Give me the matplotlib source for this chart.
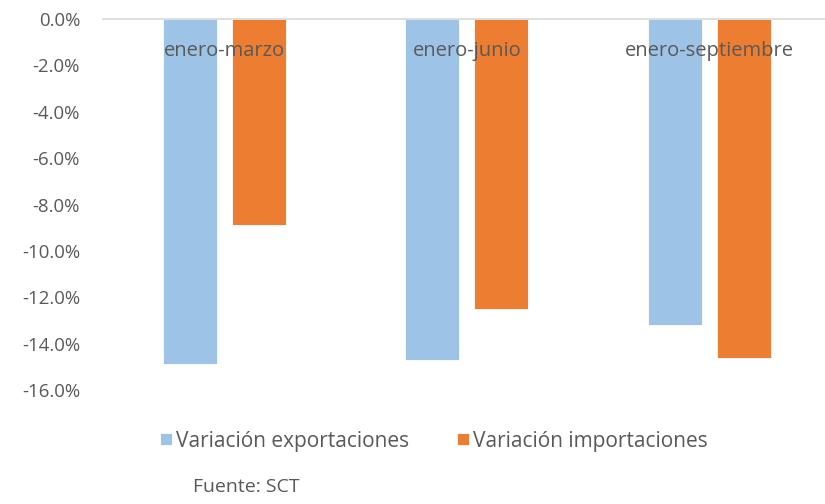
import matplotlib
matplotlib.use("Agg")
import matplotlib.pyplot as plt
import numpy as np

categories = ["enero-marzo", "enero-junio", "enero-septiembre"]
exportaciones = [-14.9, -14.7, -13.2]
importaciones = [-8.9, -12.5, -14.6]
y_ticks = [0, -2, -4, -6, -8, -10, -12, -14, -16]
series_names = ["Variación exportaciones", "Variación importaciones"]

plt.rcParams['font.family'] = ['Open Sans', 'DejaVu Sans']
text_color = "#595959"

fig = plt.figure(figsize=(8.25, 5.04), dpi=100)
ax = fig.add_axes([103/825, (504-390)/504, (825-103)/825, 371/504])

x = np.arange(len(categories))
w = 0.223
off = 0.142
b1 = ax.bar(x - off, exportaciones, w, color="#9DC3E6", edgecolor="white", linewidth=0.6,
            label=series_names[0], zorder=2)
b2 = ax.bar(x + off, importaciones, w, color="#ED7D31", edgecolor="white", linewidth=0.6,
            label=series_names[1], zorder=2)

ax.set_xlim(-0.5, -0.5 + 722/242.5)
ax.set_ylim(-16, 0)
ax.set_yticks(y_ticks)
ax.set_yticklabels([f"{v:.1f}%" for v in y_ticks], fontsize=13.4, color=text_color)
ax.tick_params(axis='y', length=0, pad=16.5)
ax.set_xticks([])
for s in ["left", "right", "bottom"]:
    ax.spines[s].set_visible(False)
ax.spines["top"].set_color("#d9d9d9")
ax.spines["top"].set_linewidth(1.2)
ax.spines["top"].set_zorder(3)

for xi, c in zip(x, categories):
    ax.text(xi, -1.38, c, ha="center", va="center", fontsize=14.5, color=text_color, zorder=4)

leg = fig.legend(handles=[b1, b2], loc="center", bbox_to_anchor=(434/825, 1 - 441/504),
                 ncol=2, frameon=False, fontsize=15, labelcolor=text_color,
                 handlelength=0.55, handleheight=0.55, handletextpad=0.2, columnspacing=2.3)

fig.text(193/825, 1 - 487/504, "Fuente: SCT", fontsize=14, color=text_color, ha="left", va="center")

fig.savefig("out.png", dpi=100)
